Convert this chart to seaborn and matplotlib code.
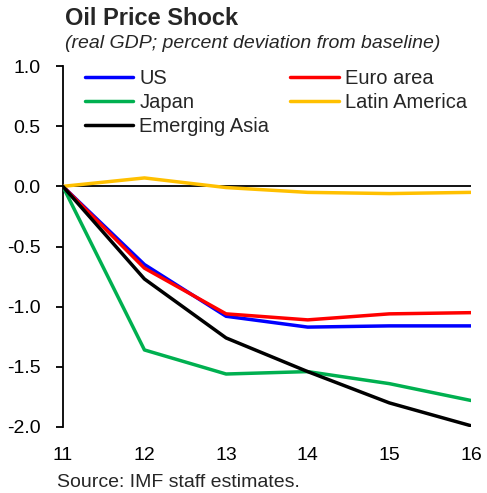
import matplotlib.pyplot as plt
import numpy as np
import pandas as pd
import seaborn as sns

# data
years = [11, 12, 13, 14, 15, 16]
us = [0.0, -0.65, -1.08, -1.17, -1.16, -1.16]
euro = [0.0, -0.68, -1.06, -1.11, -1.06, -1.05]
japan = [0.0, -1.36, -1.56, -1.54, -1.64, -1.78]
latam = [0.0, 0.07, -0.01, -0.05, -0.06, -0.05]
em_asia = [0.0, -0.77, -1.26, -1.54, -1.80, -1.99]

series = {'US': us, 'Euro area': euro, 'Japan': japan,
          'Latin America': latam, 'Emerging Asia': em_asia}
colors = {'US': '#0000FF', 'Euro area': '#FF0000', 'Japan': '#00B050',
          'Latin America': '#FFC000', 'Emerging Asia': '#000000'}

df = pd.concat([pd.DataFrame({'year': years, 'value': v, 'region': k})
                for k, v in series.items()], ignore_index=True)

#%% plot
sns.set_style('white')
plt.rcParams['font.family'] = ['Liberation Sans', 'DejaVu Sans']

fig = plt.figure(figsize=[4.87, 4.93], dpi=100)
ax = fig.add_axes([0.129, 0.134, 0.838, 0.732])

ax.axhline(0, color='black', linewidth=1.3, zorder=1)
sns.lineplot(data=df, x='year', y='value', hue='region', palette=colors,
             linewidth=2.5, ax=ax, legend=False, zorder=3)

ax.set_xlim(11, 16)
ax.set_ylim(-2.0, 1.0)
ax.set_xticks(years)
ax.set_yticks(np.arange(-2.0, 1.01, 0.5))
ax.set_yticklabels(['%.1f' % t for t in np.arange(-2.0, 1.01, 0.5)])
ax.set_xlabel('')
ax.set_ylabel('')
for s in ['top', 'right', 'bottom']:
    ax.spines[s].set_visible(False)
ax.spines['left'].set_color('black')
ax.spines['left'].set_linewidth(1.3)
ax.tick_params(axis='y', left=True, direction='out', length=5, width=1.3,
               labelsize=14, pad=11, colors='black')
ax.tick_params(axis='x', bottom=False, labelsize=14, pad=11, colors='black')

# legend: column-first order
order = ['US', 'Japan', 'Emerging Asia', 'Euro area', 'Latin America']
handles = [plt.Line2D([], [], color=colors[k], linewidth=2.5) for k in order]
ax.legend(handles, order, ncol=2, frameon=False, fontsize=14.5,
          loc='upper left', bbox_to_anchor=(0.054, 0.992),
          handlelength=2.4, handletextpad=0.3, columnspacing=1.05,
          labelspacing=0.25, borderaxespad=0, borderpad=0)

fig.text(0.133, 0.963, 'Oil Price Shock', fontsize=17, fontweight='bold', va='center')
fig.text(0.133, 0.911, '(real GDP; percent deviation from baseline)',
         fontsize=14, style='italic', va='center')
fig.text(0.117, 0.022, 'Source: IMF staff estimates.', fontsize=14, va='center')

plt.savefig('out.png', dpi=100)
